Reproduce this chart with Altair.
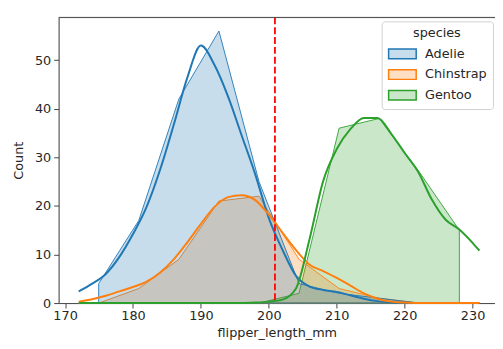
import altair as alt
import pandas as pd

# ---------------- data ----------------
species = ["Adelie", "Chinstrap", "Gentoo"]
colors = ["#1f77b4", "#ff7f0e", "#2ca02c"]
fill_colors = ["rgba(31,119,180,0.25)", "rgba(255,127,14,0.25)", "rgba(44,160,44,0.25)"]

bin_centers = [174.95, 180.85, 186.75, 192.65, 198.55, 204.45, 210.35, 216.25, 222.15, 228.05]
adelie_counts = [4, 17, 42, 56, 25, 4, 2, 1, 0, 0]
chinstrap_counts = [0, 3, 9, 21, 22, 9, 3, 1, 0, 0]
gentoo_counts = [0, 0, 0, 0, 0, 2, 36, 38, 27, 15]

kde_x = [172, 174, 176, 178, 180, 182, 184, 186, 188, 190, 192, 194, 196, 198, 200,
         202, 204, 206, 208, 210, 212, 214, 216, 218, 220, 222, 224, 226, 228, 230, 231]
adelie_kde = [2.4, 4.0, 6.0, 9.5, 14.2, 19.8, 27.5, 36.7, 46.4, 53.0, 49.0, 42.5, 34.5, 26.5, 17.5,
              11.0, 5.6, 3.4, 2.7, 2.3, 1.6, 0.9, 0.4, 0.15, 0.05, 0, 0, 0, 0, 0, 0]
chinstrap_kde = [0.3, 0.8, 1.5, 2.4, 3.3, 4.4, 6.3, 9.0, 12.5, 16.3, 19.8, 21.8, 22.2, 21.2, 18.2,
                 14.5, 10.9, 7.9, 6.6, 5.2, 3.6, 2.0, 0.9, 0.3, 0.1, 0, 0, 0, 0, 0, 0]
gentoo_kde = [0, 0, 0, 0, 0, 0, 0, 0, 0, 0, 0, 0, 0, 0.1, 0.3,
              0.7, 3.0, 13.2, 25.1, 31.7, 35.8, 38.1, 38.1, 34.9, 30.9, 27.0, 21.3, 17.2, 15.2, 12.4, 10.8]

mean_flipper = 200.9
x_ticks = [170, 180, 190, 200, 210, 220, 230]
y_ticks = [0, 10, 20, 30, 40, 50]
x_domain = [169.05, 233.3]
y_domain = [0, 58.8]

# ---------------- tables ----------------
hist_rows = []
for sp, counts in zip(species, [adelie_counts, chinstrap_counts, gentoo_counts]):
    for xc, c in zip(bin_centers, counts):
        hist_rows.append({"species": sp, "flipper_length_mm": xc, "Count": c})
hist_df = pd.DataFrame(hist_rows)

kde_rows = []
for sp, vals in zip(species, [adelie_kde, chinstrap_kde, gentoo_kde]):
    for xv, v in zip(kde_x, vals):
        kde_rows.append({"species": sp, "flipper_length_mm": xv, "Count": v})
kde_df = pd.DataFrame(kde_rows)

mean_df = pd.DataFrame({"flipper_length_mm": [mean_flipper]})

W, H = 443, 290
FONT = "DejaVu Sans"
TXT = "#262626"
AX = "#444444"

x_scale = alt.Scale(domain=x_domain, nice=False, zero=False)
y_scale = alt.Scale(domain=y_domain, nice=False)
fill_scale = alt.Scale(domain=species, range=fill_colors)
stroke_scale = alt.Scale(domain=species, range=colors)

legend = alt.Legend(
    title="species", orient="none", legendX=328, legendY=4,
    symbolType="M-1,-0.7H3V0.7H-1Z", symbolSize=196, symbolStrokeWidth=1.5,
    labelOffset=22, rowPadding=5, padding=6, titlePadding=6,
    titleAnchor="middle", titleAlign="center",
    strokeColor="#d0d0d0", fillColor="rgba(255,255,255,0.8)", cornerRadius=3,
    labelFont=FONT, labelFontSize=13, labelColor=TXT,
    titleFont=FONT, titleFontSize=13, titleFontWeight="normal", titleColor=TXT,
)

x_axis = alt.Axis(values=x_ticks, format="d", tickSize=5, labelPadding=2, titlePadding=4,
                  grid=False, domainColor=AX, tickColor=AX, labelColor=TXT, titleColor=TXT,
                  labelFont=FONT, titleFont=FONT, labelFontSize=13, titleFontSize=13,
                  titleFontWeight="normal", labelFlush=False)
y_axis = alt.Axis(values=y_ticks, format="d", tickSize=5, labelPadding=3, titlePadding=9,
                  grid=False, domainColor=AX, tickColor=AX, labelColor=TXT, titleColor=TXT,
                  labelFont=FONT, titleFont=FONT, labelFontSize=13, titleFontSize=13,
                  titleFontWeight="normal", labelFlush=False)

X = alt.X("flipper_length_mm:Q", scale=x_scale, axis=x_axis, title="flipper_length_mm")
Y = alt.Y("Count:Q", scale=y_scale, axis=y_axis, title="Count", stack=None)


def area_layer(sp):
    return alt.Chart(hist_df).transform_filter(alt.datum.species == sp).mark_area(
        strokeWidth=1, strokeOpacity=0.9, orient="vertical"
    ).encode(
        x=X,
        y=Y,
        fill=alt.Fill("species:N", scale=fill_scale, legend=legend),
        stroke=alt.Stroke("species:N", scale=stroke_scale, legend=legend),
    )


# matplotlib/seaborn draws the hues in reverse order: Gentoo, Chinstrap, then Adelie on top
area_layers = [area_layer("Gentoo"), area_layer("Chinstrap"), area_layer("Adelie")]

kdes = alt.Chart(kde_df).mark_line(strokeWidth=2, interpolate="monotone").encode(
    x=X,
    y=Y,
    stroke=alt.Stroke("species:N", scale=stroke_scale, legend=legend),
    detail="species:N",
)

mean_rule = alt.Chart(mean_df).mark_rule(color="#ff0000", strokeDash=[7, 3], strokeWidth=1.8).encode(
    x=X,
)

top_spine = alt.Chart(mean_df).mark_rule(color=AX, strokeWidth=1).encode(
    x=alt.value(0), x2=alt.value(W), y=alt.value(0),
)

chart = alt.layer(*area_layers, kdes, mean_rule, top_spine).properties(
    width=W, height=H,
    autosize=alt.AutoSizeParams(type="none"),
    padding={"left": 51.4, "top": 7, "right": 0, "bottom": 40},
).configure_view(stroke=None).configure(background="white")

chart.save("out.html", embed_options={"renderer": "svg", "actions": False})
